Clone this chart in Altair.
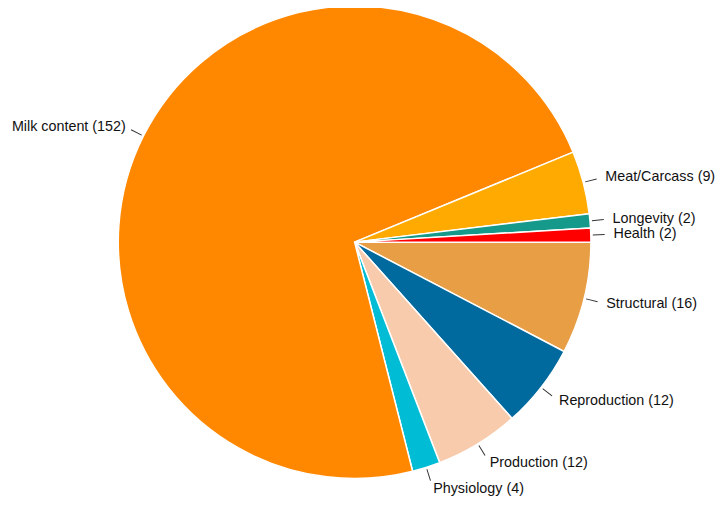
import math
import altair as alt
import pandas as pd

categories = ["Structural", "Reproduction", "Production", "Physiology",
              "Milk content", "Meat/Carcass", "Longevity", "Health"]
counts = [16, 12, 12, 4, 152, 9, 2, 2]
colors = ["#E89E44", "#00699D", "#F8CBAD", "#00BCD4",
          "#FF8800", "#FFAA00", "#14998A", "#FF0000"]

df = pd.DataFrame({"category": categories, "count": counts,
                   "ord": list(range(len(categories)))})
total = sum(counts)
eps = 0.002 * total / (2 * math.pi)  # half width of leader line (data units)

theta_scale = alt.Scale(domain=[0, total],
                        range=[math.pi / 2, math.pi / 2 + 2 * math.pi])
FONT = "Liberation Sans, Arial, sans-serif"

base = alt.Chart(df).transform_window(
    cum="sum(count)", sort=[alt.SortField("ord")], frame=[None, 0]
).transform_calculate(
    start="datum.cum - datum.count",
    mid="datum.cum - datum.count / 2",
    la=f"datum.cum - datum.count / 2 - {eps}",
    lb=f"datum.cum - datum.count / 2 + {eps}",
    label="datum.category + ' (' + datum.count + ')'",
)

slices = base.mark_arc(outerRadius=239, stroke="white", strokeWidth=1.5).encode(
    theta=alt.Theta("start:Q", scale=theta_scale),
    theta2="cum:Q",
    color=alt.Color("category:N", scale=alt.Scale(domain=categories, range=colors),
                    legend=None),
)

leaders = base.mark_arc(innerRadius=241, outerRadius=253, color="#333333").encode(
    theta=alt.Theta("la:Q", scale=theta_scale),
    theta2="lb:Q",
)

side = f"sin(PI/2 + 2*PI*datum.mid/{total})"
labels_right = base.transform_filter(f"{side} >= 0").mark_text(
    align="left", baseline="middle", radius=262, fontSize=14.5, font=FONT, color="#111111"
).encode(theta=alt.Theta("mid:Q", scale=theta_scale), text="label:N")

labels_left = base.transform_filter(f"{side} < 0").mark_text(
    align="right", baseline="middle", radius=259, fontSize=14.5, font=FONT, color="#111111"
).encode(theta=alt.Theta("mid:Q", scale=theta_scale), text="label:N")

chart = alt.layer(slices, leaders, labels_right, labels_left).properties(
    width=701, height=468,
    autosize=alt.AutoSizeParams(type="none"),
    padding={"left": 0, "top": 0, "right": 17, "bottom": 24},
).configure_view(stroke=None)

chart.save("out.html", embed_options={"renderer": "svg", "actions": False})
